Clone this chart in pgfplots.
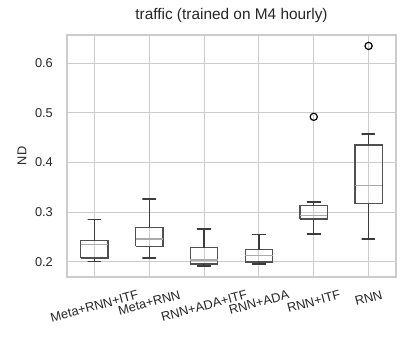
\documentclass[border=0pt]{standalone}
\usepackage{fontspec}
\setmainfont{Liberation Sans}
\usepackage{graphicx}
\usepackage{pgfplots}
\pgfplotsset{compat=1.18}

\definecolor{gridc}{HTML}{CCCCCC}
\definecolor{boxc}{HTML}{505050}
\definecolor{whc}{HTML}{3C3C3C}
\definecolor{medc}{HTML}{ABABAB}
\definecolor{txt}{HTML}{262626}

\pgfplotsset{
  bx/.style={draw=boxc, line width=1.4bp, mark=none, line join=miter},
  wh/.style={draw=whc, line width=1.4bp, mark=none},
  md/.style={draw=medc, line width=1.4bp, mark=none},
  fl/.style={only marks, mark=o, mark size=3.6bp, mark options={draw=black, line width=1.2bp}},
}

\begin{document}
\begin{tikzpicture}
\begin{axis}[
  at={(67bp,67bp)}, anchor=south west,
  scale only axis, width=329bp, height=242bp,
  xmin=0.5, xmax=6.5, ymin=0.169, ymax=0.657,
  xtick={1,2,3,4,5,6},
  xticklabels={\rotatebox{15}{Meta+RNN+ITF},\rotatebox{15}{Meta+RNN},\rotatebox{15}{RNN+ADA+ITF},\rotatebox{15}{RNN+ADA},\rotatebox{15}{RNN+ITF},\rotatebox{15}{RNN}},
  ytick={0.2,0.3,0.4,0.5,0.6},
  yticklabel style={/pgf/number format/fixed, /pgf/number format/precision=1,
    /pgf/number format/assume math mode=true, inner sep=0pt, xshift=-14bp},
  xticklabel style={anchor=north, inner sep=0pt, yshift=-13bp},
  tick label style={font=\fontsize{12.8bp}{14bp}\selectfont, text=txt},
  major tick length=0pt,
  grid=major,
  major grid style={draw=gridc, line width=1bp},
  axis line style={draw=gridc, line width=1.3bp},
  ylabel={ND},
  ylabel style={at={(axis description cs:-0.137,0.5)}, anchor=center,
    font=\fontsize{12.8bp}{14bp}\selectfont, text=txt},
  title={traffic (trained on M4 hourly)},
  title style={at={(axis description cs:0.5,1)}, anchor=base, yshift=10bp, inner sep=0pt,
    font=\fontsize{15.4bp}{17bp}\selectfont, text=txt},
]
% Meta+RNN+ITF: lw 0.200 q1 0.207 med 0.235 q3 0.242 uw 0.285
\addplot[bx] coordinates {(0.75,0.207) (1.25,0.207) (1.25,0.242) (0.75,0.242) (0.75,0.207)};
\addplot[md] coordinates {(0.75,0.235) (1.25,0.235)};
\addplot[wh] coordinates {(1,0.207) (1,0.200) (0.875,0.200) (1.125,0.200)};
\addplot[wh] coordinates {(1,0.242) (1,0.285) (0.875,0.285) (1.125,0.285)};
% Meta+RNN: lw 0.207 q1 0.231 med 0.246 q3 0.269 uw 0.326
\addplot[bx] coordinates {(1.75,0.231) (2.25,0.231) (2.25,0.269) (1.75,0.269) (1.75,0.231)};
\addplot[md] coordinates {(1.75,0.246) (2.25,0.246)};
\addplot[wh] coordinates {(2,0.231) (2,0.207) (1.875,0.207) (2.125,0.207)};
\addplot[wh] coordinates {(2,0.269) (2,0.326) (1.875,0.326) (2.125,0.326)};
% RNN+ADA+ITF: lw 0.191 q1 0.195 med 0.203 q3 0.228 uw 0.266
\addplot[bx] coordinates {(2.75,0.195) (3.25,0.195) (3.25,0.228) (2.75,0.228) (2.75,0.195)};
\addplot[md] coordinates {(2.75,0.203) (3.25,0.203)};
\addplot[wh] coordinates {(3,0.195) (3,0.191) (2.875,0.191) (3.125,0.191)};
\addplot[wh] coordinates {(3,0.228) (3,0.266) (2.875,0.266) (3.125,0.266)};
% RNN+ADA: lw 0.195 q1 0.199 med 0.212 q3 0.224 uw 0.255
\addplot[bx] coordinates {(3.75,0.199) (4.25,0.199) (4.25,0.224) (3.75,0.224) (3.75,0.199)};
\addplot[md] coordinates {(3.75,0.212) (4.25,0.212)};
\addplot[wh] coordinates {(4,0.199) (4,0.195) (3.875,0.195) (4.125,0.195)};
\addplot[wh] coordinates {(4,0.224) (4,0.255) (3.875,0.255) (4.125,0.255)};
% RNN+ITF: lw 0.256 q1 0.286 med 0.293 q3 0.313 uw 0.320
\addplot[bx] coordinates {(4.75,0.286) (5.25,0.286) (5.25,0.313) (4.75,0.313) (4.75,0.286)};
\addplot[md] coordinates {(4.75,0.293) (5.25,0.293)};
\addplot[wh] coordinates {(5,0.286) (5,0.256) (4.875,0.256) (5.125,0.256)};
\addplot[wh] coordinates {(5,0.313) (5,0.320) (4.875,0.320) (5.125,0.320)};
% RNN: lw 0.246 q1 0.317 med 0.353 q3 0.435 uw 0.457
\addplot[bx] coordinates {(5.75,0.317) (6.25,0.317) (6.25,0.435) (5.75,0.435) (5.75,0.317)};
\addplot[md] coordinates {(5.75,0.353) (6.25,0.353)};
\addplot[wh] coordinates {(6,0.317) (6,0.246) (5.875,0.246) (6.125,0.246)};
\addplot[wh] coordinates {(6,0.435) (6,0.457) (5.875,0.457) (6.125,0.457)};
% outliers
\addplot[fl] coordinates {(5,0.492) (6,0.635)};
\end{axis}
\path (0,0) rectangle (413bp,344bp);
\end{tikzpicture}
\end{document}
